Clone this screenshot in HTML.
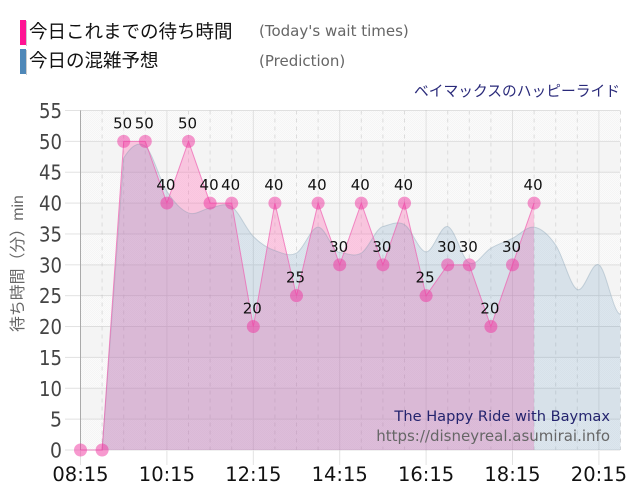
<!DOCTYPE html>
<html>
<head>
<meta charset="utf-8">
<style>
html,body{margin:0;padding:0;background:#fff;}
#wrap{position:relative;width:640px;height:500px;overflow:hidden;background:#fff;}
svg{position:absolute;left:0;top:0;}
text{font-family:"DejaVu Sans","Noto Sans CJK JP",sans-serif;}
.jp{font-family:"Liberation Sans","Noto Sans CJK JP",sans-serif;}
</style>
</head>
<body>
<div id="wrap">
<svg id="chart" width="640" height="500" viewBox="0 0 640 500">
  <defs>
    <pattern id="dither" width="2" height="2" patternUnits="userSpaceOnUse">
      <rect width="2" height="2" fill="#fbfbfb"/>
      <rect width="1" height="1" fill="#f5f5f5"/>
      <rect x="1" y="1" width="1" height="1" fill="#f5f5f5"/>
    </pattern>
  </defs>
  <rect x="20" y="20" width="6" height="25" fill="#ff1493"/>
  <rect x="26" y="21" width="1" height="25" fill="#ccc"/>
  <rect x="20" y="49" width="6" height="25" fill="#4f88b8"/>
  <rect x="26" y="50" width="1" height="25" fill="#ccc"/>
  <text class="jp" x="29" y="38" font-size="18.5" fill="#111">今日これまでの待ち時間</text>
  <text class="jp" x="29" y="67" font-size="18.5" fill="#111">今日の混雑予想</text>
  <text x="259" y="36" font-size="15" fill="#666">(Today's wait times)</text>
  <text x="259" y="66" font-size="15" fill="#666">(Prediction)</text>
  <text class="jp" x="620" y="96" font-size="14.75" fill="#2a2a7a" text-anchor="end">ベイマックスのハッピーライド</text>
  <g id="plot"></g>
  <text x="610" y="421" font-size="14.6" fill="#24246e" text-anchor="end">The Happy Ride with Baymax</text>
  <text x="610" y="441" font-size="15" fill="#666" text-anchor="end">https://disneyreal.asumirai.info</text>
  <text class="jp" transform="translate(23,332) rotate(-90)" font-size="15.9" fill="#666">待ち時間（分）min</text>
</svg>
</div>
<script>
var todayValues = [0,0,50,50,40,50,40,40,20,40,25,40,30,40,30,40,25,30,30,20,30,40];
var todayLabels = ["","","50","50","40","50","40","40","20","40","25","40","30","40","30","40","25","30","30","20","30","40"];
var predictionValues = [0,0,47.3,49.2,41.9,38.4,39.2,39.4,34.6,32.3,31.9,36.1,32,31.9,36.2,36.5,32.1,36.2,30.3,32.7,34.3,36.1,33.2,26,30,22];
var yTicks = [0,5,10,15,20,25,30,35,40,45,50,55];
var xTickLabels = ["08:15","10:15","12:15","14:15","16:15","18:15","20:15"];
var xTickSlots = [0,4,8,12,16,20,24];
var slotCount = 25;

var NS = 'http://www.w3.org/2000/svg';
var plot = document.getElementById('plot');
var left = 80.5, right = 620.5, top0 = 110.5, bottom = 450;
var yMax = yTicks[yTicks.length - 1];
function x(i){ return left + (right - left) * i / slotCount; }
function y(v){ return bottom - (bottom - top0) * v / yMax; }
function make(tag, attrs, parent){
  var el = document.createElementNS(NS, tag);
  for (var k in attrs) el.setAttribute(k, attrs[k]);
  (parent || plot).appendChild(el);
  return el;
}
function tangent(vals, i){
  var n = vals.length - 1;
  var before = i > 0 ? vals[i] - vals[i - 1] : 0;
  var after = i < n ? vals[i + 1] - vals[i] : 0;
  var m = (before + after) / 2;
  if (before * after >= 0) {
    var limit = 3 * Math.min(Math.abs(before), Math.abs(after));
    if (Math.abs(m) > limit) m = (m > 0 ? 1 : -1) * limit;
  }
  return m;
}
function smoothPath(vals){
  var step = x(1) - x(0);
  var d = 'M' + x(0) + ' ' + y(vals[0]);
  for (var i = 0; i < vals.length - 1; i++){
    var b = vals[i], c = vals[i + 1];
    if (Math.abs(c - b) > 20) {
      d += 'L' + x(i + 1) + ' ' + y(c);
      continue;
    }
    d += 'C' + (x(i) + step / 3) + ' ' + y(b + tangent(vals, i) / 3) + ' ' + (x(i + 1) - step / 3) + ' ' + y(c - tangent(vals, i + 1) / 3) + ' ' + x(i + 1) + ' ' + y(c);
  }
  return d;
}

// alternating background bands
yTicks.slice(0, -1).forEach(function(t, i){
  var band = make('rect', {x: left, y: y(yTicks[i + 1]), width: right - left, height: y(t) - y(yTicks[i + 1]), fill: i % 2 === 0 ? 'url(#dither)' : '#f4f4f4'});
  
  
});

// horizontal grid and y tick labels
yTicks.forEach(function(t){
  var g = make('line', {x1: left, x2: right, y1: y(t), y2: y(t), stroke: '#c4c4c4', 'stroke-width': 1, 'stroke-dasharray': '1 1'});
  
  
  var m = make('line', {x1: 65, x2: left, y1: y(t), y2: y(t), stroke: '#e2e2e2', 'stroke-width': 1});
  
  
  var l = make('text', {x: 62, y: y(t) + 7.5, 'font-size': 20, 'text-anchor': 'end', fill: '#444', textLength: t < 10 ? 12 : 23, lengthAdjust: 'spacingAndGlyphs'});
  l.textContent = t;
  
  
});

// vertical grid
for (var s = 1; s <= slotCount; s++){
  var major = xTickSlots.indexOf(s) >= 0;
  var v = make('line', {x1: x(s), x2: x(s), y1: top0, y2: bottom, stroke: major ? '#c8c8c8' : '#dcdcdc', 'stroke-width': 1, 'stroke-dasharray': major ? '1 1' : '4 4'});
  
  
}
xTickSlots.forEach(function(s, i){
  var t = make('line', {x1: x(s), x2: x(s), y1: bottom, y2: 465, stroke: '#e2e2e2', 'stroke-width': 1});
  
  
  var l = make('text', {x: x(s), y: 481, 'font-size': 19.5, 'text-anchor': 'middle', fill: '#111'});
  l.textContent = xTickLabels[i];
  
  
});
var axisLine = make('line', {x1: left, x2: left, y1: top0, y2: bottom, stroke: '#aaa', 'stroke-width': 1});



// today's area and line
var todayLine = todayValues.map(function(v, i){ return (i ? 'L' : 'M') + x(i) + ' ' + y(v); }).join('');
var lastIdx = todayValues.length - 1;
var todayArea = make('path', {d: todayLine + 'L' + x(lastIdx) + ' ' + bottom + 'L' + x(0) + ' ' + bottom + 'Z', fill: '#ff69b4', 'fill-opacity': 0.34});



// prediction area and line
var predLine = smoothPath(predictionValues);
var lastPred = predictionValues.length - 1;
var predArea = make('path', {d: predLine + 'L' + x(lastPred) + ' ' + bottom + 'L' + x(0) + ' ' + bottom + 'Z', fill: '#4682b4', 'fill-opacity': 0.17});


var predStroke = make('path', {d: predLine, fill: 'none', stroke: '#7a97ad', 'stroke-opacity': 0.35, 'stroke-width': 1});



var todayStroke = make('path', {d: todayLine, fill: 'none', stroke: '#f060b0', 'stroke-opacity': 0.7, 'stroke-width': 1});



// today's markers
todayValues.forEach(function(v, i){
  var c = make('circle', {cx: x(i), cy: y(v), r: 6.5, fill: '#f0339f', 'fill-opacity': 0.5});
  
  
});

// point value labels
todayLabels.forEach(function(txt, i){
  if (!txt) return;
  var l = make('text', {x: x(i) - 1, y: y(todayValues[i]) - 13, 'font-size': 15, 'text-anchor': 'middle', fill: '#111'});
  l.textContent = txt;
  
  
});
</script>
</body>
</html>
